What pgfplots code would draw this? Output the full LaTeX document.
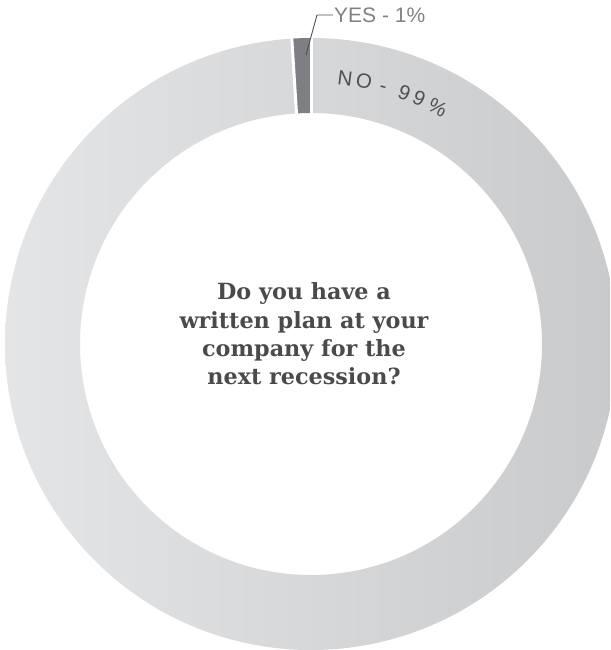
\documentclass[border=0pt]{standalone}
\usepackage{pgfplots}
\pgfplotsset{compat=1.18}
\usepackage{pgfplotstable}
\usepackage{fontspec}
\setmainfont{Liberation Sans}
\newfontfamily\slab{DejaVu Serif}

\definecolor{noL}{HTML}{E4E5E7}
\definecolor{noR}{HTML}{C9CACC}
\definecolor{yes}{HTML}{7E7F82}
\definecolor{lead}{HTML}{4F5052}
\definecolor{lbl}{HTML}{808183}
\definecolor{qtext}{HTML}{4A4A4C}

\pgfplotstableread{
label value
NO    99
YES   1
}\answers

% ring sector: start angle, end angle, style
\newcommand\slice[3]{%
  \path[#3] (axis cs:311,306) ++(#1:306pt)
    arc[start angle=#1, end angle=#2, radius=306pt]
    -- ++(#2:-75pt)
    arc[start angle=#2, end angle=#1, radius=231pt] -- cycle;}

% one letter of the curved label: angle, letter
\newcommand\arcchar[2]{%
  \path (axis cs:311,306) ++(#1:261pt)
    node[anchor=base, inner sep=0pt, rotate=#1-90, text=lead,
         font=\fontsize{20.5}{22}\selectfont] {#2};}

\newcommand\qline[2]{%
  \node[anchor=base, inner sep=0pt, text=qtext,
        font=\slab\bfseries\fontsize{22.3}{26}\selectfont]
    at (axis cs:304,#1) {#2};}

\begin{document}
\begin{tikzpicture}
\pgfplotstablegetelem{0}{value}\of\answers
\pgfmathsetmacro\aend{90-3.6*\pgfplotsretval}
\begin{axis}[
    width=610pt, height=650pt, scale only axis,
    xmin=0, xmax=610, ymin=0, ymax=650,
    hide axis, clip=true,
]
\addplot[draw=none] coordinates {(0,0) (610,650)};

\slice{90}{\aend}{left color=noL, right color=noR}
\slice{\aend}{-270}{fill=yes}
\draw[white, line width=3pt] (axis cs:311,306) ++(90:225pt) -- ++(90:90pt);
\draw[white, line width=3pt] (axis cs:311,306) ++(\aend:225pt) -- ++(\aend:90pt);

% leader and label for YES
\draw[lead, line width=0.9pt] (axis cs:306,595) -- (axis cs:317,635) -- (axis cs:333,635);
\node[anchor=base west, inner sep=0pt, text=lbl, font=\fontsize{21}{24}\selectfont]
  at (axis cs:334,627) {YES - 1\%};

% curved NO label
\arcchar{82.7}{N}
\arcchar{78.6}{O}
\arcchar{74.3}{-}
\arcchar{69.6}{9}
\arcchar{66.2}{9}
\arcchar{61.8}{\%}

% question in the middle
\qline{350}{Do you have a}
\qline{321.5}{written plan at your}
\qline{293}{company for the}
\qline{265}{next recession?}
\end{axis}
\end{tikzpicture}
\end{document}
